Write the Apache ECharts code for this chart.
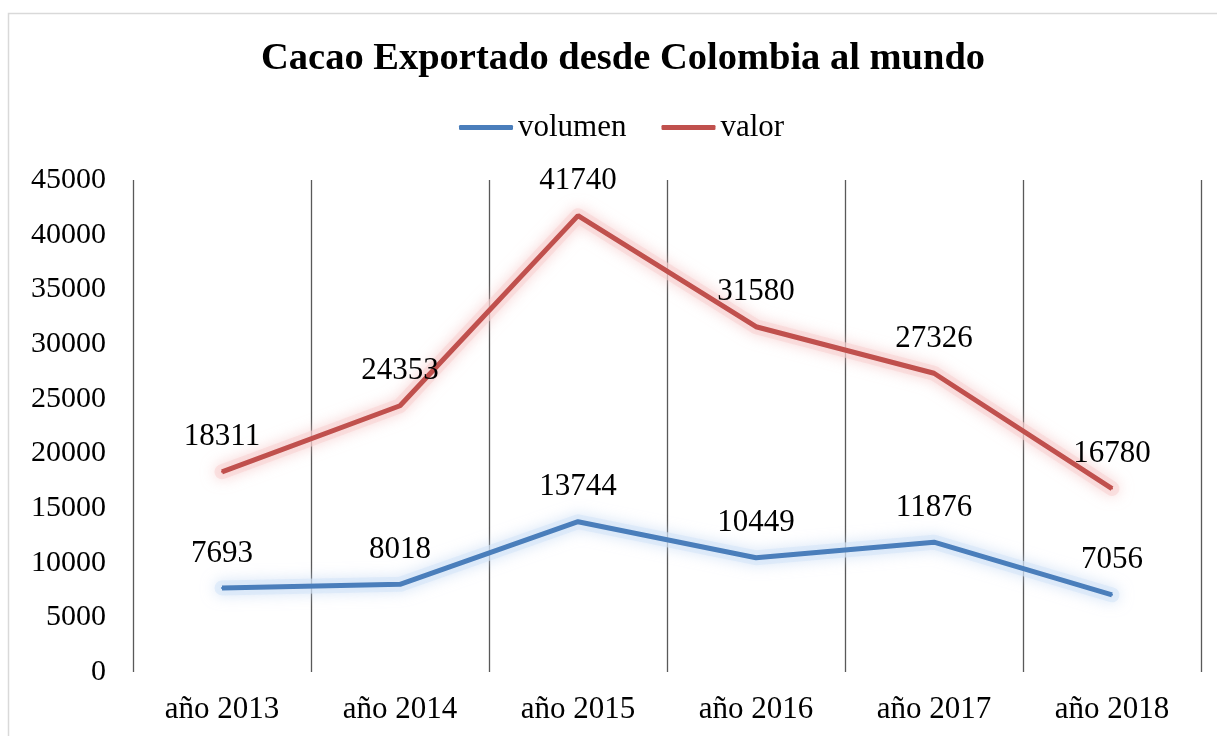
<!DOCTYPE html>
<html>
<head>
<meta charset="utf-8">
<script src="https://cdn.jsdelivr.net/npm/echarts@6/dist/echarts.min.js"></script>
<style>
  html, body { margin: 0; padding: 0; background: #fff; }
  #chart { width: 1217px; height: 736px; }
</style>
</head>
<body>
<div id="chart"></div>
<script>
const years = ["año 2013", "año 2014", "año 2015", "año 2016", "año 2017", "año 2018"];
const volumen = [7693, 8018, 13744, 10449, 11876, 7056];
const valor = [18311, 24353, 41740, 31580, 27326, 16780];

const font = "'Liberation Serif', 'Times New Roman', serif";
const chart = echarts.init(document.getElementById("chart"));

// etiqueta encima de cada punto
const label = { show: true, position: "top", distance: 18, fontFamily: font, fontSize: 31, color: "#000" };

// halo suave debajo de cada línea (efecto "resplandor" de Excel)
function glow(data, fill, shadow) {
  return {
    type: "line",
    data: data,
    symbol: "none",
    silent: true,
    z: 1,
    lineStyle: { width: 15, color: fill, shadowBlur: 14, shadowColor: shadow, cap: "round", join: "round" }
  };
}

chart.setOption({
  animation: false,
  textStyle: { fontFamily: font, color: "#000" },
  graphic: [{
    type: "rect",
    shape: { x: 8.5, y: 13.5, width: 1230, height: 740 },
    style: { fill: "none", stroke: "#d9d9d9", lineWidth: 1.5 },
    silent: true
  }],
  title: {
    text: "Cacao Exportado desde Colombia al mundo",
    left: 256,
    top: 35,
    textStyle: { fontFamily: font, fontSize: 38.5, fontWeight: "bold", color: "#000" }
  },
  legend: {
    top: 107,
    left: 454,
    itemWidth: 54,
    itemHeight: 5,
    itemGap: 35,
    icon: "roundRect",
    textStyle: { fontFamily: font, fontSize: 31, color: "#000" },
    data: ["volumen", "valor"]
  },
  grid: { left: 133, right: 16, top: 180, bottom: 64 },
  xAxis: {
    type: "category",
    data: years,
    boundaryGap: true,
    axisLine: { show: false },
    axisTick: { show: false },
    axisLabel: { fontFamily: font, fontSize: 31, color: "#000", margin: 22 },
    splitLine: { show: true, interval: 0, lineStyle: { color: "#595959", width: 1.3 } }
  },
  yAxis: {
    type: "value",
    min: 0,
    max: 45000,
    interval: 5000,
    axisLine: { show: false },
    axisTick: { show: false },
    axisLabel: { fontFamily: font, fontSize: 30, color: "#000", margin: 27, formatter: v => String(v) },
    splitLine: { show: false }
  },
  series: [
    glow(volumen, "rgba(214,230,248,0.6)", "rgba(190,212,242,1)"),
    glow(valor, "rgba(249,212,212,0.6)", "rgba(244,188,188,1)"),
    {
      name: "volumen",
      type: "line",
      data: volumen,
      symbol: "circle",
      symbolSize: 2,
      showSymbol: true,
      z: 3,
      color: "#4a7ebb",
      lineStyle: { width: 5, color: "#4a7ebb" },
      label: label
    },
    {
      name: "valor",
      type: "line",
      data: valor,
      symbol: "circle",
      symbolSize: 2,
      showSymbol: true,
      z: 3,
      color: "#c0504d",
      lineStyle: { width: 5, color: "#c0504d" },
      label: label
    }
  ]
});
</script>
</body>
</html>
